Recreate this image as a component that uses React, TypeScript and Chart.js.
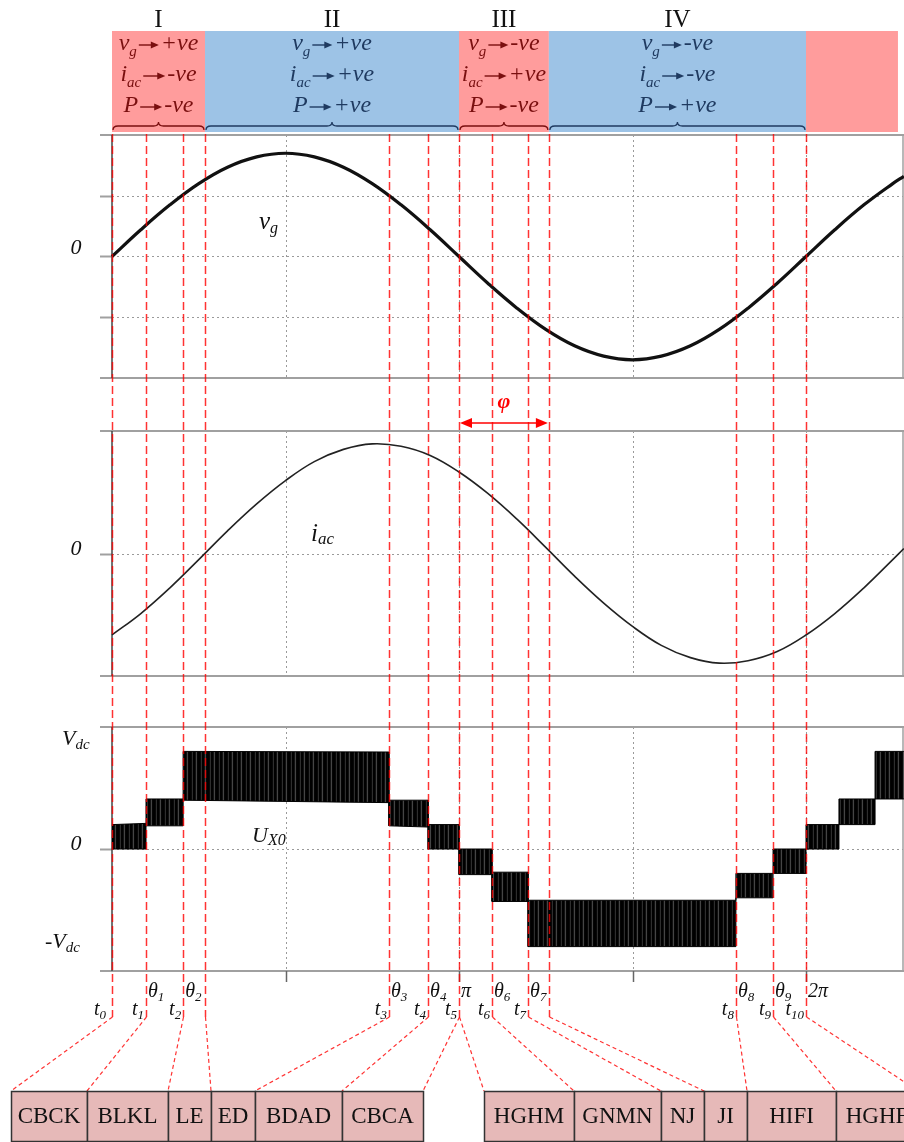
import React, { useEffect, useRef } from 'react';
import { Chart, registerables } from 'chart.js';

Chart.register(...registerables);

// ---------------- DATA ----------------
// phase angle in units of π
const phase = [0, 0.083, 0.167, 0.25, 0.333, 0.417, 0.5, 0.583, 0.667, 0.75, 0.833, 0.917, 1.0,
  1.083, 1.167, 1.25, 1.333, 1.417, 1.5, 1.583, 1.667, 1.75, 1.833, 1.917, 2.0, 2.083, 2.167, 2.25, 2.282];
const vgValues = [0, 0.44, 0.85, 1.2, 1.47, 1.64, 1.7, 1.64, 1.47, 1.2, 0.85, 0.44, 0,
  -0.44, -0.85, -1.2, -1.47, -1.64, -1.7, -1.64, -1.47, -1.2, -0.85, -0.44, 0, 0.44, 0.85, 1.2, 1.32];
const iacValues = [-1.33, -0.98, -0.56, -0.1, 0.37, 0.81, 1.19, 1.5, 1.7, 1.79, 1.75, 1.6, 1.33,
  0.98, 0.56, 0.1, -0.37, -0.81, -1.19, -1.5, -1.7, -1.79, -1.75, -1.6, -1.33, -0.98, -0.56, -0.1, 0.08];

// U_X0 switching bands (per segment, units of Vdc)
const segEdges = [0, 0.098, 0.205, 0.798, 0.911, 1.0, 1.095, 1.199, 1.798, 1.905, 2.0, 2.095, 2.199, 2.282];
const upperStart = [0.2, 0.41, 0.8, 0.4, 0.2, 0.0, -0.19, -0.42, -0.2, 0.0, 0.2, 0.41, 0.8];
const upperEnd = [0.21, 0.41, 0.795, 0.4, 0.2, 0.0, -0.19, -0.42, -0.2, 0.0, 0.2, 0.41, 0.8];
const lowerStart = [0.0, 0.19, 0.4, 0.19, 0.0, -0.21, -0.43, -0.8, -0.4, -0.2, 0.0, 0.2, 0.41];
const lowerEnd = [0.0, 0.19, 0.38, 0.18, 0.0, -0.21, -0.43, -0.8, -0.4, -0.2, 0.0, 0.2, 0.41];

// operating regions
const regionEdges = [0, 0.268, 1.0, 1.259, 2.0, 2.265];
const regionNames = ['I', 'II', 'III', 'IV'];
const vgSign = ['+ve', '+ve', '-ve', '-ve'];
const iacSign = ['-ve', '+ve', '+ve', '-ve'];
const pSign = ['-ve', '+ve', '-ve', '+ve'];

// switching instants
const switchX = [0, 0.098, 0.205, 0.268, 0.798, 0.911, 1.0, 1.095, 1.199, 1.259, 1.798, 1.905, 2.0];
const thetaMain = ['', 'θ', 'θ', '', 'θ', 'θ', 'π', 'θ', 'θ', '', 'θ', 'θ', '2π'];
const thetaSub = ['', '1', '2', '', '3', '4', '', '6', '7', '', '8', '9', ''];
const tSub = ['0', '1', '2', '', '3', '4', '5', '6', '7', '', '8', '9', '10'];

const leftBoxLabels = ['CBCK', 'BLKL', 'LE', 'ED', 'BDAD', 'CBCA'];
const rightBoxLabels = ['HGHM', 'GNMN', 'NJ', 'JI', 'HIFI', 'HGHF'];

// ---------------- LAYOUT ----------------
const W = 904, H = 1142;
const X0_PX = 112, PI_PX = 347;
const SERIF = '"Liberation Serif", "Times New Roman", serif';
const PANELS = [
  { axis: 'yV', top: 135, bottom: 378, topVal: 2, botVal: -2, hGrid: [1, 0, -1] },
  { axis: 'yI', top: 431, bottom: 676, topVal: 2, botVal: -2, hGrid: [0] },
  { axis: 'yU', top: 727, bottom: 971, topVal: 1, botVal: -1, hGrid: [0] },
];
const BAND_TOP = 31, BAND_BOTTOM = 132;
const RED_BAND = '#FF9C9C', BLUE_BAND = '#9DC3E6';
const RED_TEXT = '#7A0F0F', BLUE_TEXT = '#1F3A60';
const leftBoxEdges = [11, 87, 168, 211, 255, 342, 423];
const rightBoxEdges = [484, 574, 661, 704, 747, 836, 918];
const slantTargets = [[11], [87], [168], [211], [255], [342], [423, 484], [574], [661], [704], [747], [836], [918]];
const BOX_TOP = 1091, BOX_BOTTOM = 1141;
const LINE_TOP = 134, LINE_BOTTOM = 1017;

function rangeFor(p: any) {
  const upp = (p.topVal - p.botVal) / (p.bottom - p.top);
  return { min: p.botVal - (H - p.bottom) * upp, max: p.topVal + p.top * upp };
}

type Tok = { s?: string; sub?: boolean; arrow?: number };

function drawRich(ctx: CanvasRenderingContext2D, toks: Tok[], x: number, y: number, align: string,
  o: { main: string; sub: string; subDy: number; color: string; arrowDy?: number }) {
  const widths = toks.map(t => {
    if (t.arrow) return t.arrow;
    ctx.font = t.sub ? o.sub : o.main;
    return ctx.measureText(t.s || '').width;
  });
  const total = widths.reduce((a, b) => a + b, 0);
  let cx = align === 'center' ? x - total / 2 : align === 'right' ? x - total : x;
  ctx.fillStyle = o.color;
  ctx.strokeStyle = o.color;
  ctx.textBaseline = 'alphabetic';
  ctx.textAlign = 'left';
  toks.forEach((t, i) => {
    if (t.arrow) {
      const ay = y - (o.arrowDy ?? 5);
      const x1 = cx + 2, x2 = cx + t.arrow - 2;
      ctx.setLineDash([]);
      ctx.lineWidth = 1.4;
      ctx.beginPath(); ctx.moveTo(x1, ay); ctx.lineTo(x2 - 5, ay); ctx.stroke();
      ctx.beginPath(); ctx.moveTo(x2, ay); ctx.lineTo(x2 - 8, ay - 3.5); ctx.lineTo(x2 - 8, ay + 3.5); ctx.closePath(); ctx.fill();
    } else {
      ctx.font = t.sub ? o.sub : o.main;
      ctx.fillText(t.s || '', cx, y + (t.sub ? o.subDy : 0));
    }
    cx += widths[i];
  });
}

function brace(ctx: CanvasRenderingContext2D, a: number, b: number, y: number, color: string) {
  const m = (a + b) / 2;
  ctx.setLineDash([]);
  ctx.strokeStyle = color;
  ctx.lineWidth = 1.3;
  ctx.beginPath();
  ctx.moveTo(a + 1, y + 4);
  ctx.quadraticCurveTo(a + 1, y, a + 6, y);
  ctx.lineTo(m - 5, y);
  ctx.quadraticCurveTo(m, y, m, y - 4);
  ctx.quadraticCurveTo(m, y, m + 5, y);
  ctx.lineTo(b - 6, y);
  ctx.quadraticCurveTo(b - 1, y, b - 1, y + 4);
  ctx.stroke();
}

const decor = {
  id: 'decor',
  beforeDraw(chart: any) {
    const ctx: CanvasRenderingContext2D = chart.ctx;
    const xs = chart.scales.x;
    const px = (v: number) => xs.getPixelForValue(v);
    ctx.save();
    ctx.fillStyle = '#fff';
    ctx.fillRect(0, 0, W, H);

    // region bands
    for (let i = 0; i < regionEdges.length - 1; i++) {
      ctx.fillStyle = i % 2 === 0 ? RED_BAND : BLUE_BAND;
      const a = px(regionEdges[i]), b = px(regionEdges[i + 1]);
      ctx.fillRect(a, BAND_TOP, b - a, BAND_BOTTOM - BAND_TOP);
    }
    // region contents
    const main = 'italic 24px ' + SERIF, sub = 'italic 15px ' + SERIF;
    for (let i = 0; i < regionNames.length; i++) {
      const a = px(regionEdges[i]), b = px(regionEdges[i + 1]);
      const c = (a + b) / 2;
      const col = i % 2 === 0 ? RED_TEXT : BLUE_TEXT;
      ctx.fillStyle = '#111';
      ctx.font = '25px ' + SERIF;
      ctx.textAlign = 'center';
      ctx.textBaseline = 'alphabetic';
      ctx.fillText(regionNames[i], c, 27);
      const o = { main, sub, subDy: 6, color: col, arrowDy: 5 };
      drawRich(ctx, [{ s: 'v' }, { s: 'g', sub: true }, { arrow: 24 }, { s: vgSign[i] }], c, 50, 'center', o);
      drawRich(ctx, [{ s: 'i' }, { s: 'ac', sub: true }, { arrow: 26 }, { s: iacSign[i] }], c, 81, 'center', o);
      drawRich(ctx, [{ s: 'P' }, { arrow: 26 }, { s: pSign[i] }], c, 112, 'center', o);
      brace(ctx, a, b, 126, col);
    }

    // panels: frames, grids
    PANELS.forEach((p, k) => {
      const ys = chart.scales[p.axis];
      const left = px(0), right = W - 1;
      ctx.setLineDash([2, 3]);
      ctx.strokeStyle = '#9a9a9a';
      ctx.lineWidth = 1;
      p.hGrid.forEach(v => {
        const y = Math.round(ys.getPixelForValue(v)) + 0.5;
        ctx.beginPath(); ctx.moveTo(left, y); ctx.lineTo(right, y); ctx.stroke();
      });
      [0.5, 1, 1.5, 2].forEach(v => {
        const x = Math.round(px(v)) + 0.5;
        ctx.beginPath(); ctx.moveTo(x, p.top); ctx.lineTo(x, p.bottom); ctx.stroke();
      });
      ctx.setLineDash([]);
      ctx.strokeStyle = '#a0a0a0';
      ctx.lineWidth = 2;
      p.hGrid.forEach(v => {
        const y = Math.round(ys.getPixelForValue(v)) + 0.5;
        ctx.beginPath(); ctx.moveTo(100, y); ctx.lineTo(left, y); ctx.stroke();
      });
      ctx.beginPath();
      ctx.moveTo(100, p.top); ctx.lineTo(W, p.top);
      ctx.moveTo(100, p.bottom); ctx.lineTo(W, p.bottom);
      ctx.stroke();
      ctx.lineWidth = 1.5;
      ctx.beginPath(); ctx.moveTo(right, p.top); ctx.lineTo(right, p.bottom); ctx.stroke();
      ctx.strokeStyle = '#444';
      ctx.beginPath(); ctx.moveTo(left, p.top); ctx.lineTo(left, p.bottom); ctx.stroke();
      if (k === 2) {
        ctx.strokeStyle = '#666';
        ctx.lineWidth = 1.5;
        [0.5, 1, 1.5, 2].forEach(v => {
          const x = Math.round(px(v)) + 0.5;
          ctx.beginPath(); ctx.moveTo(x, p.bottom); ctx.lineTo(x, p.bottom + 11); ctx.stroke();
        });
      }
    });
    ctx.restore();
  },
  afterDatasetsDraw(chart: any) {
    const ctx: CanvasRenderingContext2D = chart.ctx;
    const xs = chart.scales.x;
    const px = (v: number) => xs.getPixelForValue(v);
    ctx.save();

    // red dashed lines
    ctx.strokeStyle = 'rgba(255,0,0,0.8)';
    ctx.lineWidth = 1.5;
    ctx.setLineDash([8, 4]);
    switchX.forEach(v => {
      const x = Math.round(px(v)) + 0.5;
      ctx.beginPath(); ctx.moveTo(x, LINE_TOP); ctx.lineTo(x, LINE_BOTTOM); ctx.stroke();
    });
    ctx.lineWidth = 1.2;
    ctx.setLineDash([4, 3]);
    switchX.forEach((v, i) => {
      const x = Math.round(px(v)) + 0.5;
      slantTargets[i].forEach(tx => {
        ctx.beginPath(); ctx.moveTo(x, LINE_BOTTOM); ctx.lineTo(tx, BOX_TOP); ctx.stroke();
      });
    });

    // theta / t labels
    const lo = { main: 'italic 20px ' + SERIF, sub: 'italic 13px ' + SERIF, subDy: 4, color: '#111' };
    switchX.forEach((v, i) => {
      const x = px(v);
      if (thetaMain[i]) {
        const toks: Tok[] = [{ s: thetaMain[i] }];
        if (thetaSub[i]) toks.push({ s: thetaSub[i], sub: true });
        drawRich(ctx, toks, x + 2, 997, 'left', lo);
      }
      if (tSub[i]) {
        drawRich(ctx, [{ s: 't' }, { s: tSub[i], sub: true }], x - (i === 0 ? 6 : 2), 1015, 'right', lo);
      }
    });

    // boxes
    const drawBoxes = (edges: number[], labels: string[]) => {
      for (let i = 0; i < labels.length; i++) {
        const a = edges[i], b = edges[i + 1];
        ctx.setLineDash([]);
        ctx.fillStyle = '#E6B9B8';
        ctx.fillRect(a, BOX_TOP, b - a, BOX_BOTTOM - BOX_TOP);
        ctx.strokeStyle = '#333';
        ctx.lineWidth = 1.5;
        ctx.strokeRect(a + 0.5, BOX_TOP + 0.5, b - a, BOX_BOTTOM - BOX_TOP);
        ctx.fillStyle = '#111';
        ctx.font = '23px ' + SERIF;
        ctx.textAlign = 'center';
        ctx.textBaseline = 'middle';
        ctx.fillText(labels[i], (a + b) / 2, 1117);
      }
    };
    drawBoxes(leftBoxEdges, leftBoxLabels);
    drawBoxes(rightBoxEdges, rightBoxLabels);

    // phi arrow
    const pa = px(1.0), pb = px(1.259), ay = 423;
    ctx.setLineDash([]);
    ctx.strokeStyle = '#f00';
    ctx.fillStyle = '#f00';
    ctx.lineWidth = 1.6;
    ctx.beginPath(); ctx.moveTo(pa + 10, ay); ctx.lineTo(pb - 10, ay); ctx.stroke();
    ctx.beginPath(); ctx.moveTo(pa + 1, ay); ctx.lineTo(pa + 13, ay - 5); ctx.lineTo(pa + 13, ay + 5); ctx.closePath(); ctx.fill();
    ctx.beginPath(); ctx.moveTo(pb - 1, ay); ctx.lineTo(pb - 13, ay - 5); ctx.lineTo(pb - 13, ay + 5); ctx.closePath(); ctx.fill();
    ctx.font = 'italic bold 22px ' + SERIF;
    ctx.textAlign = 'center';
    ctx.textBaseline = 'middle';
    ctx.fillText('φ', (pa + pb) / 2, 402);

    // left axis labels
    const big = { main: 'italic 22px ' + SERIF, sub: 'italic 15px ' + SERIF, subDy: 4, color: '#111' };
    drawRich(ctx, [{ s: '0' }], 76, 254, 'center', big);
    drawRich(ctx, [{ s: '0' }], 76, 555, 'center', big);
    drawRich(ctx, [{ s: '0' }], 76, 850, 'center', big);
    drawRich(ctx, [{ s: 'V' }, { s: 'dc', sub: true }], 62, 745, 'left', big);
    drawRich(ctx, [{ s: '-V' }, { s: 'dc', sub: true }], 45, 948, 'left', big);

    // curve labels
    drawRich(ctx, [{ s: 'v' }, { s: 'g', sub: true }], 259, 229, 'left',
      { main: 'italic 25px ' + SERIF, sub: 'italic 16px ' + SERIF, subDy: 4, color: '#111' });
    drawRich(ctx, [{ s: 'i' }, { s: 'ac', sub: true }], 311, 541, 'left',
      { main: 'italic 25px ' + SERIF, sub: 'italic 17px ' + SERIF, subDy: 3, color: '#111' });
    drawRich(ctx, [{ s: 'U' }, { s: 'X0', sub: true }], 252, 842, 'left',
      { main: 'italic 22px ' + SERIF, sub: 'italic 16px ' + SERIF, subDy: 3, color: '#111' });
    ctx.restore();
  },
};

export default function App() {
  const ref = useRef<HTMLCanvasElement>(null);
  useEffect(() => {
    document.body.style.margin = '0';
    const canvas = ref.current!;
    const ctx = canvas.getContext('2d')!;

    const pc = document.createElement('canvas');
    pc.width = 9; pc.height = 4;
    const g = pc.getContext('2d')!;
    ['#000', '#000', '#080808', '#2e2e2e', '#000', '#000', '#111', '#454545', '#050505'].forEach((c, i) => {
      g.fillStyle = c; g.fillRect(i, 0, 1, 4);
    });
    const pattern = ctx.createPattern(pc, 'repeat');

    const upperPts: any[] = [], lowerPts: any[] = [];
    for (let i = 0; i < segEdges.length - 1; i++) {
      upperPts.push({ x: segEdges[i], y: upperStart[i] }, { x: segEdges[i + 1], y: upperEnd[i] });
      lowerPts.push({ x: segEdges[i], y: lowerStart[i] }, { x: segEdges[i + 1], y: lowerEnd[i] });
    }

    const scales: any = {
      x: { type: 'linear', display: false, min: -X0_PX / PI_PX, max: (W - X0_PX) / PI_PX, bounds: 'data' },
    };
    PANELS.forEach(p => {
      const r = rangeFor(p);
      scales[p.axis] = { type: 'linear', display: false, min: r.min, max: r.max, bounds: 'data', grace: 0 };
    });

    const chart = new Chart(canvas, {
      type: 'line',
      data: {
        datasets: [
          { label: 'vg', data: phase.map((x, i) => ({ x, y: vgValues[i] })), yAxisID: 'yV',
            borderColor: '#111', borderWidth: 3.2, pointRadius: 0, tension: 0.4, fill: false },
          { label: 'iac', data: phase.map((x, i) => ({ x, y: iacValues[i] })), yAxisID: 'yI',
            borderColor: '#222', borderWidth: 1.6, pointRadius: 0, tension: 0.4, fill: false },
          { label: 'UX0 upper', data: upperPts, yAxisID: 'yU', borderColor: '#000', borderWidth: 1,
            pointRadius: 0, tension: 0, fill: false },
          { label: 'UX0 lower', data: lowerPts, yAxisID: 'yU', borderColor: '#000', borderWidth: 1,
            pointRadius: 0, tension: 0, fill: '-1', backgroundColor: pattern as any },
        ],
      },
      options: {
        responsive: false,
        maintainAspectRatio: false,
        devicePixelRatio: 1,
        animation: false,
        events: [],
        layout: { padding: 0 },
        plugins: { legend: { display: false }, tooltip: { enabled: false }, title: { display: false } },
        scales,
      },
      plugins: [decor],
    } as any);
    return () => chart.destroy();
  }, []);
  return <canvas ref={ref} width={W} height={H} style={{ display: 'block', width: W, height: H }} />;
}
